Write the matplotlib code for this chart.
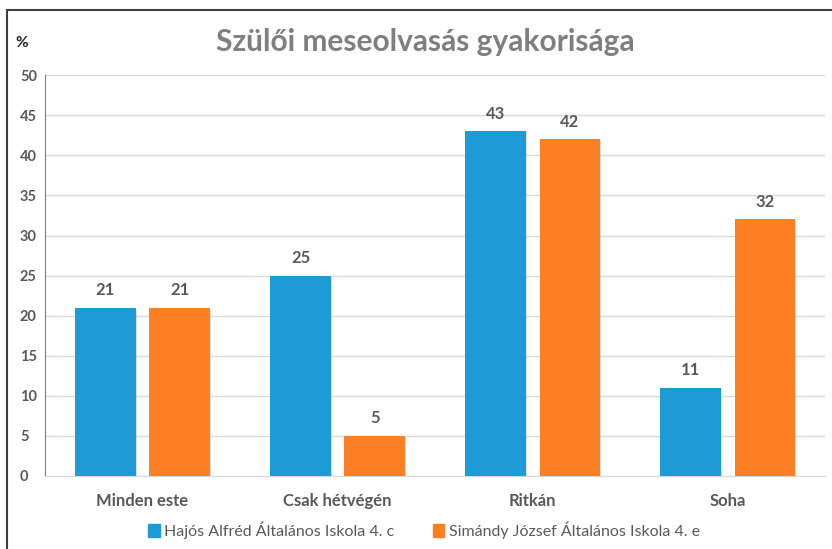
import numpy as np
import matplotlib.pyplot as plt
from matplotlib.lines import Line2D

categories = ["Minden este", "Csak hétvégén", "Ritkán", "Soha"]
series_names = ["Hajós Alfréd Általános Iskola 4. c", "Simándy József Általános Iskola 4. e"]
hajos = [21, 25, 43, 11]
simandy = [21, 5, 42, 32]
colors = ["#1c9bd6", "#fd7f23"]

plt.rcParams['font.family'] = ['Lato', 'DejaVu Sans']

fig = plt.figure(figsize=(8.32, 5.49), dpi=100)
ax = fig.add_axes([0.054, 0.133, 0.938, 0.730])

x = np.arange(len(categories))
w = 0.31
off = 0.19
for vals, dx, c in [(hajos, -off, colors[0]), (simandy, off, colors[1])]:
    # soft shadow
    ax.bar(x + dx + 0.006, vals, w, bottom=-0.25, color="#bdbdbd", alpha=0.5, zorder=2)
    bars = ax.bar(x + dx, vals, w, color=c, zorder=3)
    for b, v in zip(bars, vals):
        ax.text(b.get_x() + b.get_width() / 2, v + 1.2, str(v), ha="center", va="bottom",
                fontsize=12, fontweight="bold", color="#595959")

ax.set_xlim(-0.5, 3.5)
ax.set_ylim(0, 50)
ax.set_yticks(range(0, 51, 5))
ax.set_xticks(x)
ax.set_xticklabels(categories)
ax.tick_params(axis="both", length=0, colors="#595959", labelsize=10.5)
ax.tick_params(axis="x", pad=12, labelsize=12)
for lab in ax.get_xticklabels() + ax.get_yticklabels():
    lab.set_fontweight("bold")
ax.yaxis.set_tick_params(pad=18)
for lab in ax.get_yticklabels():
    lab.set_horizontalalignment("left")
ax.grid(axis="y", color="#d9d9d9", linewidth=1, zorder=0)
for s in ["top", "right"]:
    ax.spines[s].set_visible(False)
ax.spines["left"].set_color("#7f7f7f")
ax.spines["bottom"].set_color("#d9d9d9")

fig.text(0.511, 0.924, "Szülői meseolvasás gyakorisága", ha="center", va="center",
         fontsize=21.5, fontweight="bold", color="#7f7f7f")
fig.text(0.018, 0.922, "%", ha="left", va="center", fontsize=11, fontweight="bold", color="#222222")

handles = [plt.Rectangle((0, 0), 1, 1, color=c) for c in colors]
fig.legend(handles, series_names, loc="center", bbox_to_anchor=(0.51, 0.034), ncol=2,
           frameon=False, fontsize=11.5, handlelength=0.7, handleheight=0.9, handletextpad=0.3,
           columnspacing=2.4, labelcolor="#595959")

# outer frame (cropped screenshot edge)
fig.add_artist(Line2D([0.0085, 1.0], [0.982, 0.982], color="#404040", lw=1.5, transform=fig.transFigure))
fig.add_artist(Line2D([0.0085, 0.0085], [0.0, 0.982], color="#404040", lw=1.5, transform=fig.transFigure))

fig.savefig("out.png", dpi=100)
